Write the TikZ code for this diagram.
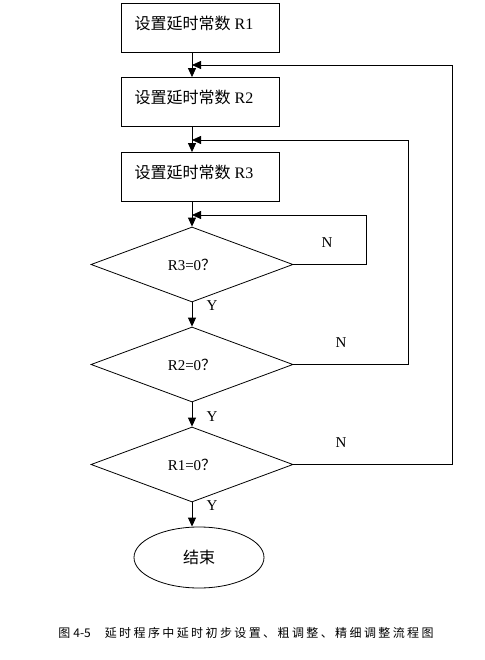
\documentclass[tikz,border=0pt]{standalone}
\usepackage{fontspec}
\setmainfont{Liberation Serif}
\newfontfamily\cjk{Noto Sans CJK SC}
\newfontfamily\capcjk[LetterSpace=20]{Noto Sans CJK SC}
\usetikzlibrary{shapes.geometric,arrows.meta}

\begin{document}
\begin{tikzpicture}[x=1pt,y=-1pt,
		stepbox/.style={draw,line width=0.8pt,minimum width=158pt,minimum height=49pt,inner sep=0pt},
		steptext/.style={font=\fontsize{16}{18}\selectfont,inner sep=0pt},
		testbox/.style={draw,diamond,aspect=2.7,line width=0.8pt,minimum width=202pt,minimum height=75pt,inner sep=0pt,font=\fontsize{15}{17}\selectfont},
		endbox/.style={draw,ellipse,line width=0.8pt,minimum width=130pt,minimum height=61pt,inner sep=0pt,font=\fontsize{16}{18}\selectfont},
		yn/.style={font=\fontsize{15}{17}\selectfont,inner sep=0pt},
		arr/.style={line width=0.8pt,-{Triangle[length=9pt,width=8pt]}}]
		\useasboundingbox (0,0) rectangle (484,660);
		% boxes
		\node[stepbox] (b1) at (200,27.5) {};
		\node[steptext] (t1) at (194,23) {{\cjk 设置延时常数} R1};
		\node[stepbox] (b2) at (200,102) {};
		\node[steptext] (t2) at (194,97) {{\cjk 设置延时常数} R2};
		\node[stepbox] (b3) at (200,177) {};
		\node[steptext] (t3) at (194,172) {{\cjk 设置延时常数} R3};
		% tests
		\node[testbox] (d3) at (192,264.5) {R3=0{\cjk ？}};
		\node[testbox] (d2) at (192,364.5) {R2=0{\cjk ？}};
		\node[testbox] (d1) at (192,464.5) {R1=0{\cjk ？}};
		\node[endbox] (e) at (199,557.5) {\cjk 结束};
		\coordinate (m2) at (192,65);
		\coordinate (m3) at (192,140);
		\coordinate (m4) at (192,215);
		\coordinate (c1) at (452,65);
		\coordinate (c2) at (408,140);
		\coordinate (c3) at (366,215);
		\draw[arr] ([xshift=-8pt]b1.south) -- ([xshift=-8pt]b2.north);
		\draw[arr] ([xshift=-8pt]b2.south) -- ([xshift=-8pt]b3.north);
		\draw[arr] ([xshift=-8pt]b3.south) -- (d3.north);
		\draw[arr] (d3.south) -- (d2.north);
		\draw[arr] (d2.south) -- (d1.north);
		\draw[arr] (d1.south) -- (d1.south |- e.north);
		% loops back
		\draw[arr] (d3.east) -| (c3) -- (m4);
		\draw[arr] (d2.east) -| (c2) -- (m3);
		\draw[arr] (d1.east) -| (c1) -- (m2);
		\node[yn] (n3) at (327,243) {N};
		\node[yn] (n2) at (341,343) {N};
		\node[yn] (n1) at (341,443) {N};
		\node[yn] (y3) at (212,306) {Y};
		\node[yn] (y2) at (212,417) {Y};
		\node[yn] (y1) at (212,506) {Y};
		\node[font=\fontsize{12}{14}\selectfont,inner sep=0pt] (cap) at (246,633) {{\capcjk 图} {\cjk 4-5}\hspace{14pt}{\capcjk 延时程序中延时初步设置、粗调整、精细调整流程图}};
\end{tikzpicture}
\end{document}
